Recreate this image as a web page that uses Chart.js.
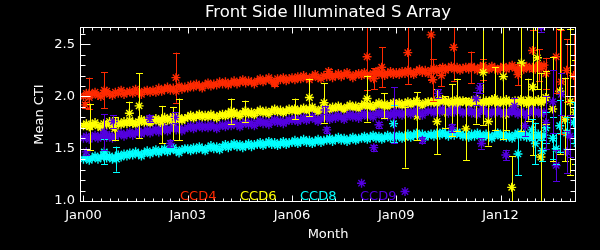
<!DOCTYPE html>
<html>
<head>
<meta charset="utf-8">
<script src="https://cdn.jsdelivr.net/npm/chart.js@4/dist/chart.umd.min.js"></script>
<style>
  html, body { margin: 0; padding: 0; background: #000; }
  #wrap { width: 600px; height: 250px; }
</style>
</head>
<body>
<div id="wrap"><canvas id="c" width="600" height="250"></canvas></div>
<script>
// monthly mean CTI, first value = Jan 2000
const FIRST_YEAR = 2000;

const ccd4 = [
  2.00, 2.03, 1.99, 2.02, 2.04, 2.01, 2.00, 2.03, 2.05, 2.02, 2.01, 2.04,
  2.03, 2.06, 2.02, 2.04, 2.05, 2.03, 2.07, 2.04, 2.02, 2.05, 2.06, 2.04,
  2.06, 2.04, 2.08, 2.05, 2.07, 2.09, 2.06, 2.08, 2.05, 2.10, 2.07, 2.09,
  2.08, 2.11, 2.09, 2.12, 2.10, 2.08, 2.11, 2.13, 2.10, 2.12, 2.11, 2.14,
  2.12, 2.14, 2.11, 2.13, 2.15, 2.12, 2.14, 2.16, 2.13, 2.15, 2.14, 2.12,
  2.15, 2.17, 2.14, 2.16, 2.18, 2.15, 2.13, 2.17, 2.16, 2.18, 2.15, 2.17,
  2.18, 2.16, 2.19, 2.17, 2.20, 2.18, 2.16, 2.19, 2.21, 2.18, 2.17, 2.20,
  2.19, 2.21, 2.18, 2.20, 2.22, 2.19, 2.21, 2.23, 2.20, 2.18, 2.21, 2.22,
  2.20, 2.23, 2.21, 2.19, 2.22, 2.24, 2.21, 2.23, 2.20, 2.22, 2.24, 2.21,
  2.23, 2.21, 2.24, 2.22, 2.25, 2.23, 2.21, 2.24, 2.26, 2.23, 2.25, 2.22,
  2.25, 2.27, 2.24, 2.26, 2.28, 2.25, 2.27, 2.29, 2.26, 2.28, 2.25, 2.27,
  2.28, 2.26, 2.29, 2.27, 2.25, 2.28, 2.30, 2.27, 2.26, 2.29, 2.27, 2.25,
  2.27, 2.29, 2.26, 2.28, 2.30, 2.27, 2.25, 2.28, 2.26, 2.29, 2.27, 2.28,
  2.26, 2.29, 2.27, 2.30
];
const ccd6 = [
  1.72, 1.74, 1.71, 1.73, 1.75, 1.72, 1.70, 1.74, 1.73, 1.76, 1.72, 1.74,
  1.75, 1.73, 1.76, 1.74, 1.77, 1.75, 1.73, 1.76, 1.78, 1.75, 1.77, 1.74,
  1.77, 1.79, 1.76, 1.78, 1.80, 1.77, 1.79, 1.81, 1.78, 1.80, 1.77, 1.79,
  1.80, 1.82, 1.79, 1.81, 1.83, 1.80, 1.82, 1.80, 1.83, 1.81, 1.79, 1.82,
  1.83, 1.81, 1.84, 1.82, 1.85, 1.83, 1.81, 1.84, 1.86, 1.83, 1.85, 1.82,
  1.85, 1.87, 1.84, 1.86, 1.83, 1.86, 1.88, 1.85, 1.87, 1.84, 1.86, 1.88,
  1.86, 1.88, 1.85, 1.87, 1.89, 1.86, 1.88, 1.90, 1.87, 1.85, 1.88, 1.89,
  1.89, 1.87, 1.90, 1.88, 1.91, 1.89, 1.87, 1.90, 1.92, 1.89, 1.91, 1.88,
  1.91, 1.93, 1.90, 1.92, 1.89, 1.92, 1.94, 1.91, 1.93, 1.90, 1.92, 1.94,
  1.92, 1.94, 1.91, 1.93, 1.95, 1.92, 1.94, 1.96, 1.93, 1.91, 1.94, 1.95,
  1.94, 1.96, 1.93, 1.95, 1.97, 1.94, 1.96, 1.93, 1.95, 1.97, 1.94, 1.96,
  1.95, 1.93, 1.96, 1.94, 1.97, 1.95, 1.93, 1.96, 1.94, 1.97, 1.95, 1.93,
  1.96, 1.94, 1.97, 1.95, 1.93, 1.96, 1.94, 1.97, 1.95, 1.93, 1.96, 1.94,
  1.95, 1.97, 1.94, 1.96
];
const ccd8 = [
  1.40, 1.42, 1.39, 1.41, 1.43, 1.40, 1.42, 1.44, 1.41, 1.43, 1.40, 1.42,
  1.44, 1.42, 1.45, 1.43, 1.46, 1.44, 1.47, 1.45, 1.43, 1.46, 1.48, 1.45,
  1.47, 1.49, 1.46, 1.48, 1.50, 1.47, 1.49, 1.51, 1.48, 1.46, 1.49, 1.50,
  1.50, 1.48, 1.51, 1.49, 1.52, 1.50, 1.48, 1.51, 1.53, 1.50, 1.52, 1.49,
  1.52, 1.54, 1.51, 1.53, 1.55, 1.52, 1.54, 1.51, 1.53, 1.55, 1.52, 1.54,
  1.54, 1.56, 1.53, 1.55, 1.57, 1.54, 1.56, 1.53, 1.55, 1.57, 1.54, 1.56,
  1.56, 1.58, 1.55, 1.57, 1.59, 1.56, 1.58, 1.55, 1.57, 1.59, 1.56, 1.58,
  1.58, 1.60, 1.57, 1.59, 1.61, 1.58, 1.60, 1.57, 1.59, 1.61, 1.58, 1.60,
  1.60, 1.62, 1.59, 1.61, 1.63, 1.60, 1.62, 1.59, 1.61, 1.63, 1.60, 1.62,
  1.61, 1.63, 1.60, 1.62, 1.64, 1.61, 1.63, 1.65, 1.62, 1.64, 1.61, 1.63,
  1.64, 1.62, 1.65, 1.63, 1.66, 1.64, 1.62, 1.65, 1.63, 1.66, 1.64, 1.62,
  1.63, 1.61, 1.64, 1.62, 1.65, 1.63, 1.61, 1.64, 1.62, 1.60, 1.63, 1.65,
  1.62, 1.64, 1.61, 1.63, 1.60, 1.63, 1.65, 1.62, 1.64, 1.61, 1.63, 1.60,
  1.62, 1.64, 1.61, 1.63
];
const ccd9 = [
  1.60, 1.62, 1.59, 1.61, 1.63, 1.60, 1.62, 1.64, 1.61, 1.63, 1.60, 1.62,
  1.63, 1.65, 1.62, 1.64, 1.66, 1.63, 1.65, 1.67, 1.64, 1.66, 1.68, 1.65,
  1.67, 1.69, 1.66, 1.68, 1.70, 1.67, 1.69, 1.71, 1.68, 1.70, 1.67, 1.69,
  1.70, 1.72, 1.69, 1.71, 1.73, 1.70, 1.72, 1.70, 1.73, 1.71, 1.69, 1.72,
  1.73, 1.71, 1.74, 1.72, 1.75, 1.73, 1.71, 1.74, 1.76, 1.73, 1.75, 1.72,
  1.75, 1.77, 1.74, 1.76, 1.73, 1.76, 1.78, 1.75, 1.77, 1.74, 1.76, 1.78,
  1.77, 1.79, 1.76, 1.78, 1.80, 1.77, 1.79, 1.81, 1.78, 1.76, 1.79, 1.80,
  1.80, 1.78, 1.81, 1.79, 1.82, 1.80, 1.78, 1.81, 1.83, 1.80, 1.82, 1.79,
  1.82, 1.84, 1.81, 1.83, 1.80, 1.83, 1.85, 1.82, 1.84, 1.81, 1.83, 1.85,
  1.83, 1.85, 1.82, 1.84, 1.86, 1.83, 1.85, 1.87, 1.84, 1.82, 1.85, 1.86,
  1.86, 1.84, 1.87, 1.85, 1.88, 1.86, 1.84, 1.87, 1.85, 1.88, 1.86, 1.84,
  1.85, 1.87, 1.84, 1.86, 1.83, 1.86, 1.88, 1.85, 1.83, 1.86, 1.84, 1.87,
  1.85, 1.83, 1.86, 1.84, 1.87, 1.85, 1.83, 1.86, 1.84, 1.82, 1.85, 1.87,
  1.84, 1.86, 1.83, 1.85
];

// odd points with their error bars: [year, mean CTI, error]
const ccd4Odd = [
  [2000.05, 1.92, 0.03], [2000.16, 2.03, 0.15], [2000.60, 2.06, 0.17], [2002.66, 2.18, 0.24],
  [2005.50, 2.12, 0.02], [2007.05, 2.24, 0.02], [2008.16, 2.38, 0.32], [2008.35, 2.17, 0.10],
  [2008.58, 2.28, 0.19], [2009.33, 2.42, 0.30], [2010.00, 2.59, 0.43], [2010.05, 2.16, 0.20],
  [2010.30, 2.20, 0.10], [2010.65, 2.47, 0.32], [2011.15, 2.28, 0.15], [2011.50, 2.26, 0.10],
  [2012.50, 2.21, 0.10], [2012.92, 2.44, 0.20], [2013.10, 2.30, 0.15], [2013.30, 2.22, 0.15],
  [2013.60, 2.38, 0.35], [2013.75, 2.14, 0.50], [2013.90, 2.25, 0.30], [2014.10, 2.20, 0.40]
];
const ccd6Odd = [
  [2000.19, 1.71, 0.22], [2000.90, 1.69, 0.11], [2001.32, 1.84, 0.11], [2001.60, 1.91, 0.31],
  [2002.27, 1.73, 0.18], [2002.58, 1.74, 0.16], [2002.75, 1.78, 0.20], [2004.25, 1.86, 0.12],
  [2004.65, 1.86, 0.10], [2006.08, 1.88, 0.10], [2006.50, 1.99, 0.18], [2006.92, 1.94, 0.19],
  [2008.16, 1.98, 0.22], [2008.65, 1.91, 0.12], [2009.25, 1.61, 0.29], [2009.60, 1.81, 0.23],
  [2010.17, 1.76, 0.31], [2010.40, 1.85, 0.15], [2010.60, 1.87, 0.25], [2010.75, 1.92, 0.25],
  [2011.00, 1.69, 0.30], [2011.30, 1.84, 0.10], [2011.50, 2.23, 0.50], [2011.65, 1.76, 0.23],
  [2011.83, 1.98, 0.30], [2012.08, 2.19, 0.60], [2012.15, 1.83, 0.15], [2012.32, 1.13, 0.30],
  [2012.60, 2.32, 0.65], [2012.80, 1.97, 0.20], [2012.92, 2.09, 0.65], [2013.06, 2.37, 0.30],
  [2013.16, 1.42, 0.80], [2013.30, 1.99, 0.25], [2013.50, 1.88, 0.50], [2013.70, 2.05, 0.60],
  [2013.85, 1.78, 0.40], [2014.00, 1.95, 0.70], [2014.15, 1.85, 0.50]
];
const ccd8Odd = [
  [2000.60, 1.47, 0.12], [2000.95, 1.40, 0.12], [2008.92, 1.74, 0.18], [2012.50, 1.45, 0.20],
  [2012.90, 1.68, 0.10], [2013.00, 1.55, 0.20], [2013.20, 1.48, 0.10], [2013.30, 1.70, 0.15],
  [2013.50, 1.60, 0.20], [2013.60, 1.50, 0.15], [2013.70, 1.72, 0.25], [2013.90, 1.65, 0.15],
  [2014.10, 1.75, 0.20], [2014.20, 1.55, 0.20]
];
const ccd9Odd = [
  [2000.08, 1.47, 0.03], [2000.60, 1.66, 0.17], [2000.86, 1.76, 0.06], [2001.90, 1.79, 0.03],
  [2002.50, 1.55, 0.03], [2002.64, 1.80, 0.05], [2006.95, 1.87, 0.04], [2007.00, 1.68, 0.03],
  [2008.00, 1.17, 0.00], [2008.35, 1.51, 0.03], [2008.50, 1.73, 0.03], [2008.92, 1.82, 0.27],
  [2009.25, 1.09, 0.00], [2009.75, 1.58, 0.03], [2010.20, 2.03, 0.04], [2010.60, 1.70, 0.04],
  [2011.30, 1.98, 0.06], [2011.40, 2.08, 0.05], [2011.45, 1.55, 0.05], [2012.15, 1.44, 0.05],
  [2012.40, 1.91, 0.08], [2012.70, 1.72, 0.10], [2013.16, 2.67, 0.05], [2013.30, 1.75, 0.25],
  [2013.50, 1.95, 0.30], [2013.60, 1.34, 0.15], [2013.75, 2.02, 0.20], [2013.90, 1.47, 0.20],
  [2014.00, 1.62, 0.20]
];

const seriesNames = ['CCD4', 'CCD6', 'CCD8', 'CCD9'];
const seriesColors = ['#ff2a00', '#ffff00', '#00ffff', '#5400e0'];

const xTickValues = [2000, 2003, 2006, 2009, 2012];
const xTickLabels = ['Jan00', 'Jan03', 'Jan06', 'Jan09', 'Jan12'];
const yTickValues = [1.0, 1.5, 2.0, 2.5];
const yTickLabels = ['1.0', '1.5', '2.0', '2.5'];

const FONT = 'DejaVu Sans';

function buildSeries(monthly, odd) {
  const pts = monthly.map((v, i) => ({ x: FIRST_YEAR + i / 12, y: v }));
  const errs = monthly.map(() => 0);
  odd.forEach(([x, y, e]) => { pts.push({ x, y }); errs.push(e); });
  return { pts, errs };
}

const raw = [[ccd4, ccd4Odd], [ccd6, ccd6Odd], [ccd8, ccd8Odd], [ccd9, ccd9Odd]];
const datasets = raw.map(([m, o], k) => {
  const s = buildSeries(m, o);
  return {
    label: seriesNames[k],
    data: s.pts,
    errors: s.errs,
    order: 3 - k,
    showLine: false,
    pointStyle: 'star',
    pointRadius: 4.5,
    pointHoverRadius: 4.5,
    borderWidth: 1.4,
    borderColor: seriesColors[k],
    backgroundColor: seriesColors[k],
    clip: 0,
  };
});

// IDL-looking frame: black fill, error bars, box with inward ticks, title, legend
const idlFrame = {
  id: 'idlFrame',
  beforeDraw(chart) {
    const { ctx, width, height } = chart;
    ctx.save();
    ctx.fillStyle = '#000';
    ctx.fillRect(0, 0, width, height);
    ctx.restore();
  },
  afterDatasetsDraw(chart) {
    const { ctx, chartArea: a, scales: { x, y } } = chart;
    ctx.save();
    ctx.beginPath();
    ctx.rect(a.left, a.top, a.right - a.left, a.bottom - a.top);
    ctx.clip();
    ctx.lineWidth = 1;
    chart.data.datasets.forEach((ds) => {
      ctx.strokeStyle = ds.borderColor;
      ds.data.forEach((p, i) => {
        const e = ds.errors[i];
        if (!e) return;
        const px = Math.round(x.getPixelForValue(p.x)) + 0.5;
        const top = y.getPixelForValue(p.y + e);
        const bot = y.getPixelForValue(p.y - e);
        ctx.beginPath();
        ctx.moveTo(px, top); ctx.lineTo(px, bot);
        ctx.moveTo(px - 3.5, Math.round(top) + 0.5); ctx.lineTo(px + 3.5, Math.round(top) + 0.5);
        ctx.moveTo(px - 3.5, Math.round(bot) + 0.5); ctx.lineTo(px + 3.5, Math.round(bot) + 0.5);
        ctx.stroke();
      });
    });
    ctx.restore();
  },
  afterDraw(chart) {
    const { ctx, chartArea: a, scales: { x, y } } = chart;
    ctx.save();
    ctx.strokeStyle = '#fff';
    ctx.lineWidth = 1;
    const L = a.left + 0.5, R = a.right - 0.5, T = a.top + 0.5, B = a.bottom - 0.5;
    ctx.strokeRect(L, T, R - L, B - T);
    ctx.beginPath();
    // x ticks every quarter, longer on the labelled years
    for (let q = 2000; q <= x.max; q += 0.25) {
      if (q < x.min) continue;
      const px = Math.round(x.getPixelForValue(q)) + 0.5;
      const len = xTickValues.includes(q) ? 6 : 3;
      ctx.moveTo(px, B); ctx.lineTo(px, B - len);
      ctx.moveTo(px, T); ctx.lineTo(px, T + len);
    }
    // y ticks every 0.1
    for (let k = 10; k <= 26; k++) {
      const v = k / 10;
      const py = Math.round(y.getPixelForValue(v)) + 0.5;
      const len = k % 5 === 0 ? 10 : 5;
      ctx.moveTo(L, py); ctx.lineTo(L + len, py);
      ctx.moveTo(R, py); ctx.lineTo(R - len, py);
    }
    ctx.stroke();

    ctx.fillStyle = '#fff';
    ctx.font = `16.5px "${FONT}"`;
    ctx.textAlign = 'center';
    ctx.textBaseline = 'middle';
    ctx.fillText('Front Side Illuminated S Array', (a.left + a.right) / 2, 13);

    ctx.font = `13px "${FONT}"`;
    ctx.textAlign = 'left';
    ctx.textBaseline = 'alphabetic';
    seriesNames.forEach((n, k) => {
      ctx.fillStyle = seriesColors[k];
      ctx.fillText(n, 180 + k * 60, 200);
    });
    ctx.restore();
  },
};

new Chart(document.getElementById('c'), {
  type: 'scatter',
  data: { datasets },
  plugins: [idlFrame],
  options: {
    responsive: false,
    animation: false,
    events: [],
    layout: { padding: { left: 0, right: 24, top: 27, bottom: 0 } },
    plugins: { legend: { display: false }, tooltip: { enabled: false } },
    scales: {
      x: {
        type: 'linear',
        min: 1999.9,
        max: 2014.17,
        afterFit: (s) => { s.height = 48; },
        afterBuildTicks: (s) => { s.ticks = xTickValues.map((v) => ({ value: v })); },
        grid: { display: false, drawTicks: false },
        border: { display: false },
        ticks: {
          color: '#fff',
          padding: 6,
          maxRotation: 0,
          font: { family: FONT, size: 13 },
          callback: (v) => xTickLabels[xTickValues.indexOf(v)],
        },
        title: {
          display: true,
          text: 'Month',
          color: '#fff',
          font: { family: FONT, size: 13 },
          padding: { top: 0, bottom: 8 },
        },
      },
      y: {
        min: 0.99,
        max: 2.665,
        afterFit: (s) => { s.width = 80; },
        afterBuildTicks: (s) => { s.ticks = yTickValues.map((v) => ({ value: v })); },
        grid: { display: false, drawTicks: false },
        border: { display: false },
        ticks: {
          color: '#fff',
          padding: 5,
          font: { family: FONT, size: 13 },
          callback: (v) => yTickLabels[yTickValues.indexOf(v)],
        },
        title: {
          display: true,
          text: 'Mean CTI',
          color: '#fff',
          font: { family: FONT, size: 13 },
          padding: { top: 32, bottom: 0 },
        },
      },
    },
  },
});
</script>
</body>
</html>
